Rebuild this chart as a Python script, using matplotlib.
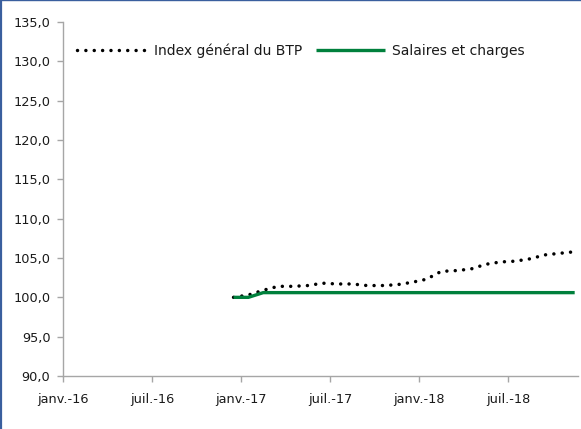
#!/usr/bin/env python3

import matplotlib
matplotlib.use("Agg")
import matplotlib.pyplot as plt
from matplotlib.lines import Line2D
from matplotlib.ticker import FuncFormatter, MultipleLocator

# months Dec 2016 .. Nov 2018
months = ["déc.-16", "janv.-17", "févr.-17", "mars-17", "avr.-17", "mai-17", "juin-17",
          "juil.-17", "août-17", "sept.-17", "oct.-17", "nov.-17", "déc.-17",
          "janv.-18", "févr.-18", "mars-18", "avr.-18", "mai-18", "juin-18",
          "juil.-18", "août-18", "sept.-18", "oct.-18", "nov.-18"]
index_btp = [100.0, 100.3, 100.9, 101.4, 101.4, 101.5, 101.8, 101.7, 101.7, 101.5,
             101.5, 101.6, 101.9, 102.3, 103.3, 103.4, 103.6, 104.2, 104.5, 104.6,
             104.9, 105.4, 105.6, 105.8]
salaires = [100.0, 100.0, 100.6, 100.6, 100.6, 100.6, 100.6, 100.6, 100.6, 100.6,
            100.6, 100.6, 100.6, 100.6, 100.6, 100.6, 100.6, 100.6, 100.6, 100.6,
            100.6, 100.6, 100.6, 100.6]
tick_labels = ["janv.-16", "juil.-16", "janv.-17", "juil.-17", "janv.-18", "juil.-18"]

# x position in months since Jan 2016, points sit mid-month
x = [11.5 + i for i in range(len(months))]

plt.rcParams['font.family'] = ['DejaVu Sans']

fig = plt.figure(figsize=(5.81, 4.29), dpi=100)
ax = fig.add_axes([0.1084, 0.1235, 0.8866, 0.8252])

ax.plot(x, index_btp, color='black', lw=2.5, linestyle=(0, (0.01, 2.4)),
        dash_capstyle='round', label='Index général du BTP')
ax.plot(x, salaires, color='#00803C', lw=2.4, label='Salaires et charges',
        solid_capstyle='butt')

ax.set_ylim(90, 135)
ax.set_xlim(0, 34.73)
ax.yaxis.set_major_locator(MultipleLocator(5))
ax.yaxis.set_major_formatter(FuncFormatter(lambda v, p: f"{v:.1f}".replace('.', ',')))
ax.set_xticks([6 * i for i in range(len(tick_labels))])
ax.set_xticklabels(tick_labels)

for s in ['top', 'right']:
    ax.spines[s].set_visible(False)
for s in ['left', 'bottom']:
    ax.spines[s].set_color('#A6A6A6')
    ax.spines[s].set_linewidth(1.0)
ax.tick_params(axis='both', color='#A6A6A6', length=4, width=1.0, labelsize=9.3,
               labelcolor='#1A1A1A', direction='out')
ax.tick_params(axis='y', pad=5)
ax.tick_params(axis='x', pad=8)

ax.legend(loc='upper left', bbox_to_anchor=(0.012, 0.962), ncol=2, frameon=False,
          fontsize=10, handlelength=5.0, handletextpad=0.5, columnspacing=1.0,
          borderaxespad=0.2, labelcolor='#1A1A1A')

# blue frame on the left and top edges only
fig.add_artist(Line2D([0.0015, 0.0015], [0, 1], transform=fig.transFigure,
                      color='#3A5F9E', lw=1.6))
fig.add_artist(Line2D([0, 1], [0.999, 0.999], transform=fig.transFigure,
                      color='#3A5F9E', lw=1.0))

fig.savefig("out.png", dpi=100)
plt.close(fig)
